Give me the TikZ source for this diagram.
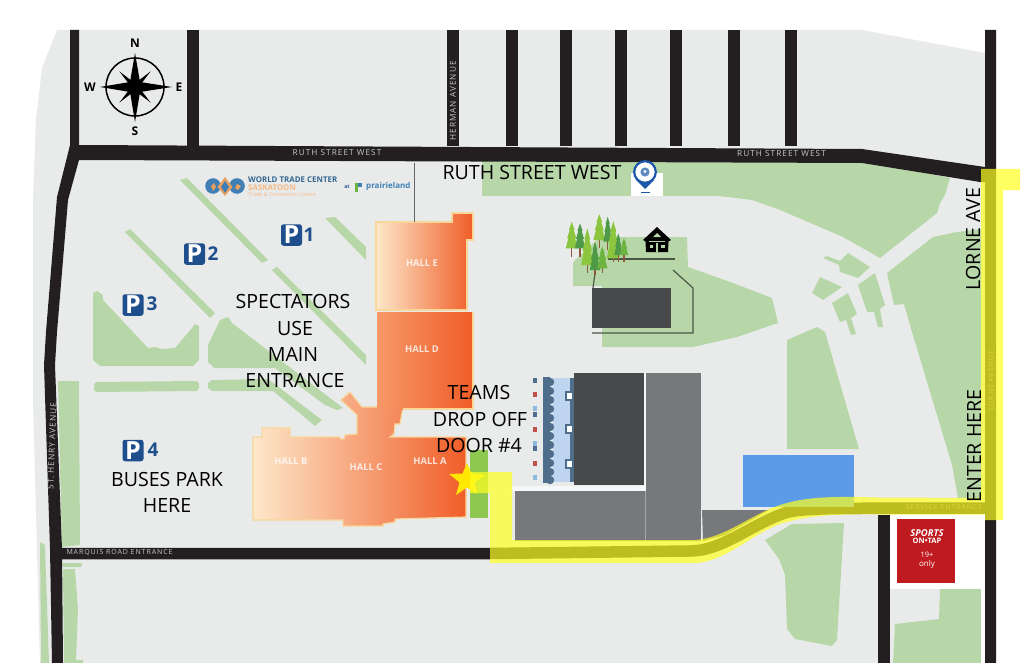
\documentclass[tikz,border=0pt]{standalone}
\usepackage{fontspec}
\setmainfont{Open Sans}
\newfontfamily\roadfont[LetterSpace=13]{Open Sans}
\usetikzlibrary{shadings}
\definecolor{ground}{HTML}{E9EBEB}
\definecolor{lawn}{HTML}{B8D7A9}
\definecolor{road}{HTML}{231F20}
\definecolor{parkblue}{HTML}{1F4E8C}
\definecolor{hallrim}{HTML}{F8D79A}
\definecolor{darkbldg}{HTML}{48494B}
\definecolor{midbldg}{HTML}{77787B}
\definecolor{pool}{HTML}{5B9BE8}
\definecolor{leafA}{HTML}{8CC63F}
\definecolor{leafB}{HTML}{4E9A47}
\definecolor{leafC}{HTML}{6DB33F}
\definecolor{bark}{HTML}{8B5A3C}
\definecolor{routey}{HTML}{FFFF20}
\definecolor{seatdark}{HTML}{4F6E8C}
\definecolor{seatred}{HTML}{C0504D}
\definecolor{seatlight}{HTML}{8DB9DE}
\definecolor{standblue}{HTML}{BFD4EE}
\definecolor{hallcream}{HTML}{FDE8CA}
\definecolor{hallmid}{HTML}{F8A478}
\definecolor{halldleft}{HTML}{F79868}
\definecolor{hallright}{HTML}{F05D28}
\definecolor{padgreen}{HTML}{8FC850}
\definecolor{sportsred}{HTML}{BE1A20}
\definecolor{logoblue}{HTML}{3F7FB5}
\definecolor{logoorange}{HTML}{E8A060}
\definecolor{logopale}{HTML}{F3B988}
\definecolor{pinblue}{HTML}{1B56A8}
\tikzset{
  lawnfill/.style={fill=lawn},
  roadline/.style={draw=road,line width=11.5pt},
  bigtext/.style={font=\fontsize{19.6}{19.6}\selectfont,text=black,inner sep=0pt},
  roadtext/.style={font=\fontsize{8.2}{8.2}\selectfont\roadfont,text=ground!85!black,inner sep=0pt},
  smallroadtext/.style={font=\fontsize{7}{7}\selectfont\roadfont,text=ground!85!black,inner sep=0pt},
  halltext/.style={font=\fontsize{9.4}{9.4}\selectfont\bfseries,text=white,text opacity=.8,inner sep=0pt},
  pbox/.style={fill=parkblue,text=white,rounded corners=2.5pt,minimum width=21pt,minimum height=21.5pt,inner sep=0pt,font=\fontsize{25}{25}\selectfont\bfseries},
  pnum/.style={text=parkblue,inner sep=0pt,font=\fontsize{19}{19}\selectfont\bfseries},
  compasslbl/.style={inner sep=0pt,font=\fontsize{12}{12}\selectfont\bfseries},
  gardenline/.style={draw=black!60!lawn,line width=1.2pt},
}
\newcommand{\pinetree}[6]{%
  \draw[bark,line width=1.3pt] (#1,#2+#3-3) -- (#1,#6);
  \begin{scope}[shift={(#1,#2)},xscale=#4,yscale=#3]
    \fill[#5] (0,0) -- (.24,.3) -- (.16,.3) -- (.38,.62) -- (.28,.62) -- (.5,1) -- (-.5,1) -- (-.28,.62) -- (-.38,.62) -- (-.16,.3) -- (-.24,.3) -- cycle;
  \end{scope}}
\begin{document}
\begin{tikzpicture}[x=1pt,y=-1pt]
\useasboundingbox (0,0) rectangle (1024,663);
\fill[white] (0,0) rectangle (1024,663);
% ground
\fill[ground] (57,30) -- (862,30) -- (985,53) -- (985,663) -- (40,663) -- (33,400) -- (33,200) -- (36,120) -- (42,68) -- cycle;
% lawns top / right
\fill[lawnfill] (482,160) -- (862,160) -- (950,178) -- (945,195) -- (940,203) -- (937,213) -- (880,258) -- (843,237) -- (780,210) -- (752,200) -- (719,196) -- (482,196) -- cycle;
\fill[white] (631,173) rectangle (663,196);
\fill[lawnfill] (887,273) -- (933,237) -- (957,232) -- (981,229) -- (981,498) -- (958,498) -- (952,465) -- (912,332) -- (904,304) -- (894,305) -- cycle;
\fill[lawnfill] (823,258) -- (827,256) -- (840,261) -- (848,253) -- (870,267) -- (858,278) -- (840,272) -- (839,265) -- cycle;
\fill[lawnfill] (820,277) -- (842,287) -- (823,300) -- (812,293) -- cycle;
\fill[lawnfill] (832,303) -- (848,293) -- (857,314) -- (851,318) -- (856,334) -- (851,335) -- (846,320) -- (840,322) -- cycle;
\fill[lawnfill] (858,285) -- (875,273) -- (885,305) -- (880,309) -- (883,327) -- (878,327) -- (874,312) -- (867,312) -- cycle;
\fill[lawnfill] (787,340) -- (817,327) -- (825,332) -- (859,449) -- (787,449) -- cycle;
% garden
\fill[lawnfill] (573,286) -- (573,262) -- (600,237) -- (687,237) -- (688,267) -- (733,283) -- (772,298) -- (778,323) -- (737,337) -- (693,347) -- (602,347) -- (602,286) -- cycle;
% lower lawns
\fill[lawnfill] (765,540) -- (792,524) -- (844,523) -- (837,640) -- (832,646) -- (795,639) -- (787,629) -- (785,575) -- (779,559) -- cycle;
\fill[white] (890,510) rectangle (985,589);
\fill[lawnfill] (940,589) -- (981,589) -- (981,663) -- (893,663) -- (895,624) -- (939,619) -- cycle;
\fill[white] (981,589) rectangle (985,663);
% left strips
\fill[lawnfill] (58,381) -- (79,381) -- (80,545) -- (62,547) -- cycle;
\fill[lawnfill] (62,563) -- (82,563) -- (81,567) -- (63,567) -- cycle;
\fill[lawnfill] (63,569) -- (75,569) -- (78,609) -- (76,660) -- (83,660) -- (83,663) -- (64,663) -- cycle;
\fill[lawnfill] (40,542) -- (45,545) -- (49,663) -- (41,663) -- cycle;
% parking lawns
\fill[lawnfill] (180,180) -- (187,178) -- (268,260) -- (262,263) -- cycle;
\fill[lawnfill] (272,270) -- (277,267) -- (366,355) -- (366,365) -- cycle;
\fill[lawnfill] (325,218) -- (335,217) -- (366,247) -- (366,260) -- cycle;
\fill[lawnfill] (125,232) -- (130,229) -- (215,313) -- (210,318) -- cycle;
\fill[lawnfill] (93,293) -- (97,291) -- (103,295) -- (103,300) -- (148,348) -- (155,347) -- (162,349) -- (175,348) -- (192,328) -- (195,324) -- (199,326) -- (199,360) -- (193,366) -- (100,366) -- (93,360) -- cycle;
\fill[lawnfill,rounded corners=3pt] (94,382) -- (199,381) -- (199,391) -- (94,392) -- cycle;
\fill[lawnfill] (208,345) -- (220,320) -- (228,317) -- (232,323) -- (343,408) -- (337,410) -- (325,405) -- (275,368) -- (214,368) -- (208,362) -- cycle;
\fill[lawnfill] (208,383) -- (212,380) -- (268,379) -- (322,420) -- (315,426) -- (273,391) -- (212,391) -- (208,388) -- cycle;
% roads
\fill[road] (70,145) -- (70,30) -- (79,30) -- (79,145) -- (862,149) -- (985,167) -- (985,30) -- (996,30) -- (996,663) -- (985,663) -- (985,182) -- (980,182) -- (862,163) -- (79,160) -- (68,200) -- (57,332) -- (55,365) -- (62,549) -- (63,663) -- (52,663) -- (50,549) -- (44,365) -- (46,332) -- (57,197) -- cycle;
\foreach \rx in {187,447,506,560,615,670,728,785}
  \fill[road] (\rx,30) rectangle (\rx+12,146);
\fill[road] (878,515) rectangle (890,663);
\draw[roadline] (56,553.5) -- (490,553.5) -- (690,551) .. controls (722,551) and (750,525) .. (785,513) .. controls (802,508) and (830,508) .. (992,508);
% buildings
\fill[darkbldg] (592,288) rectangle (671,328);
\draw[gardenline] (608,259) -- (675,259);
\draw[gardenline] (673,270) -- (693,288) -- (693,333) -- (592,333);
\draw[gardenline] (595,273) -- (593,288);
\fill[white!60!ground] (510,486) rectangle (646,491);
\fill[white!60!ground] (644,373) rectangle (646,491);
\fill[darkbldg] (574,373) rectangle (644,485);
\fill[midbldg] (646,373) rectangle (701,541);
\fill[midbldg] (515,491) rectangle (645,541);
\draw[black!35,line width=.6pt] (645.5,491) -- (645.5,541);
\fill[midbldg] (702,510) -- (769,510) -- (725,535) -- (703,541) -- cycle;
\fill[pool] (743,455) rectangle (854,507);
% stand
\fill[standblue] (553,378) rectangle (573,482);
\fill[seatdark] (570,378) rectangle (574,482);
\fill[seatdark] (543,377) rectangle (550,483);
\foreach \sy in {382,391,400,409,418,427,436,445,454,463,472,480}
  \fill[seatdark] (550,\sy) circle (4.2);
\foreach \sy in {380,414,448} \fill[seatdark] (533,\sy-2.5) rectangle (537,\sy+2.5);
\foreach \sy in {394,429,463} \fill[seatred] (533,\sy-2.5) rectangle (537,\sy+2.5);
\foreach \sy in {408,443,477} \fill[seatlight] (533,\sy-2.5) rectangle (537,\sy+2.5);
\foreach \sy in {396,429,464} \filldraw[draw=seatdark,fill=white,line width=1.5pt] (566,\sy-4) rectangle (573,\sy+4);
% green pad
\fill[padgreen] (470,450) rectangle (488,518);
% halls
\shadedraw[draw=hallrim,line width=1.2pt,left color=hallcream,right color=hallright]
  (376,222) -- (452,222) -- (452,213) -- (473,213) -- (473,240) -- (467,240) -- (467,310) -- (376,310) -- cycle;
\shadedraw[draw=hallrim,line width=1.2pt,left color=hallcream,middle color=hallmid,right color=hallright]
  (253,437) -- (262,437) -- (262,428) -- (290,428) -- (290,437) -- (340,437) -- (340,439) -- (344,439) -- (345,435) -- (357,434) -- (357,415) -- (341,400) -- (350,392) -- (362,407) -- (377,407) -- (403,407) -- (400,424) -- (395,424) -- (394,434) -- (390,437) -- (466,437) -- (466,517) -- (395,519) -- (395,522) -- (383,524) -- (383,526) -- (343,526) -- (343,520) -- (253,520) -- cycle;
\shade[left color=halldleft,right color=hallright]
  (377,312) rectangle (473,409);
\draw[hallrim,line width=1.2pt] (403,409) -- (473,409) -- (473,312);
% star
\fill[yellow!90!orange] (467,463) -- (471.5,473.5) -- (485,475) -- (474.5,482.5) -- (477,494) -- (467,487.5) -- (456,495) -- (459.5,482.5) -- (449,474) -- (462.5,473.5) -- cycle;
% route
\fill[routey,opacity=.7] (981,169) -- (1020,169) -- (1020,190) -- (1003,190) -- (1003,520) -- (985,520) -- (985,514.5) -- (878,514.5) .. controls (830,514) and (805,516) .. (780,524) .. controls (750,535) and (725,562) .. (695,563) -- (490,563) -- (490,493) -- (470,493) -- (470,472) -- (512,472) -- (512,540) -- (695,540) .. controls (725,538) and (750,515) .. (780,505) .. controls (805,497) and (830,496) .. (878,497.5) -- (981,498) -- cycle;
% trees
\pinetree{571.7}{221.7}{26.7}{12}{leafA}{256.7}
\pinetree{580}{223.3}{25}{10.5}{leafB}{256.7}
\pinetree{599.3}{214.3}{25.7}{12}{leafA}{248.3}
\pinetree{607.7}{216.7}{25}{9}{leafB}{250}
\pinetree{587.3}{228.3}{36.7}{12.5}{leafA}{273.3}
\pinetree{613.3}{221}{37.3}{13}{leafA}{262.3}
\pinetree{618.3}{233.3}{21.7}{8}{leafB}{262.3}
\pinetree{624}{238.3}{16.7}{8.5}{leafC}{262.3}
\pinetree{595}{241.7}{28.3}{10.5}{leafB}{275}
\pinetree{602.3}{246.7}{21.7}{10.5}{leafC}{273.3}
% house
\fill[black] (643,240) -- (657,227) -- (671,240) -- (668.5,241.5) -- (668,252) -- (646,252) -- (645.5,241.5) -- cycle;
\fill[lawn] (653,237) -- (657,233) -- (661,237) -- cycle;
\fill[lawn] (649,241) rectangle (665,242);
\fill[lawn] (656,243) rectangle (658,252);
\fill[lawn] (649.5,245) rectangle (653,248);
\fill[lawn] (661,245) rectangle (664.5,248);
% pin
\fill[pinblue] (636,180) -- (645,189) -- (654,180) -- cycle;
\filldraw[draw=pinblue,fill=white,line width=2.2pt] (645,172) circle (10.8);
\fill[pinblue!70!white] (645,172) circle (4.6);
\fill[white] (645,171.5) circle (1.6);
\fill[pinblue] (640.5,192) rectangle (649.5,193.2);
% logo
\fill[logoblue] (213,186) circle (7.8);
\fill[logoblue] (237,186) circle (7.8);
\fill[logoorange] (225,177) -- (232.5,187) -- (225,196) -- (217.5,187) -- cycle;
\fill[logoblue] (225,181) -- (229,187) -- (225,193) -- (221,187) -- cycle;
\fill[logoorange] (211,186) -- (214,183) -- (216,187) -- (213,191) -- cycle;
\fill[logoorange] (237,184) -- (241,186) -- (238,190) -- (235,188) -- cycle;
\fill[leafC] (355,183) rectangle (358,192);
\fill[logoblue] (358,183) -- (362,183) -- (362,187) -- (358,187) -- cycle;
\draw[black!60,line width=.9pt] (414,163) -- (414,222);
% compass
\draw[black,line width=1.5pt] (135,87) circle (29);
\foreach \a in {45,135,225,315}
  \fill[black,rotate around={\a:(135,87)}] (135,84) -- (157,87) -- (135,90) -- cycle;
\fill[black] (135,53) -- (140,82) -- (172,87) -- (140,92) -- (135,122) -- (130,92) -- (100,87) -- (130,82) -- cycle;
\node[compasslbl] (cn) at (135,43.5) {N};
\node[compasslbl] (cs) at (135,131) {S};
\node[compasslbl] (cw) at (90,87) {W};
\node[compasslbl] (ce) at (179,87) {E};
% parking markers
\node[pbox] (p1) at (291.5,235) {P};
\node[pnum] (n1) at (309,235) {1};
\node[pbox] (p2) at (194.5,254) {P};
\node[pnum] (n2) at (213,254) {2};
\node[pbox] (p3) at (133,305) {P};
\node[pnum] (n3) at (152,304) {3};
\node[pbox] (p4) at (133,450.5) {P};
\node[pnum] (n4) at (153,450) {4};
% road labels
\node[roadtext] (rw1) at (337,153) {RUTH STREET WEST};
\node[roadtext] (rw2) at (781.5,153.5) {RUTH STREET WEST};
\node[roadtext,rotate=90] (herm) at (453,101) {HERMAN AVENUE};
\node[roadtext,rotate=88] (henry) at (52,446) {ST. HENRY AVENUE};
\node[smallroadtext] (marq) at (119.5,553) {MARQUIS ROAD ENTRANCE};
\node[smallroadtext,text=yellow!60!olive!75!white] (serv) at (944,507) {SERVICE ENTRANCE};
\node[smallroadtext,text=yellow!60!olive!75!white,rotate=90] (lorn) at (991,381) {LORNE AVENUE};
% logo text
\node[inner sep=0pt,anchor=west,text=logoblue!80!black,font=\fontsize{7.9}{7.9}\selectfont\bfseries] (wtc) at (248,180) {WORLD TRADE CENTER};
\node[inner sep=0pt,anchor=west,text=logopale,font=\fontsize{7.9}{7.9}\selectfont\bfseries] (sask) at (248,187.3) {SASKATOON};
\node[inner sep=0pt,anchor=west,text=logopale,font=\fontsize{5.4}{5.4}\selectfont] (tcc) at (248,194) {Trade \& Convention Centre};
\node[inner sep=0pt,text=parkblue,font=\fontsize{5}{5}\selectfont\bfseries] (atw) at (347,187) {at};
\node[inner sep=0pt,anchor=west,text=logoblue,font=\fontsize{8}{8}\selectfont\bfseries] (prai) at (366,186) {prairieland};
% hall labels
\node[halltext] (he) at (422,263) {HALL E};
\node[halltext] (hd) at (422,349) {HALL D};
\node[halltext] (hb) at (291,461) {HALL B};
\node[halltext] (hc) at (366,467) {HALL C};
\node[halltext] (ha) at (430,461) {HALL A};
% red box
\fill[sportsred] (897,519) rectangle (955,583);
\node[inner sep=0pt,text=white,font=\fontsize{9.5}{9.5}\selectfont\bfseries\itshape] (sp1) at (927,533) {SPORTS};
\node[inner sep=0pt,text=white,font=\fontsize{7.5}{7.5}\selectfont\bfseries] (sp2) at (927,540.5) {ON•TAP};
\node[inner sep=0pt,text=white,font=\fontsize{7.5}{7.5}\selectfont] (sp3) at (927,555) {19+};
\node[inner sep=0pt,text=white,font=\fontsize{8}{8}\selectfont] (sp4) at (927,564) {only};
% big labels
\node[bigtext] (ruth) at (532,172) {RUTH STREET WEST};
\node[bigtext] (spec1) at (293,301) {SPECTATORS};
\node[bigtext] (spec2) at (295,328) {USE};
\node[bigtext] (spec3) at (293,354) {MAIN};
\node[bigtext] (spec4) at (295,380) {ENTRANCE};
\node[bigtext] (team1) at (479,392) {TEAMS};
\node[bigtext] (team2) at (480,419) {DROP OFF};
\node[bigtext] (team3) at (479,445) {DOOR \#4};
\node[bigtext] (bus1) at (167,479) {BUSES PARK};
\node[bigtext] (bus2) at (167,505) {HERE};
\node[bigtext,rotate=90] (lave) at (973,239) {LORNE AVE};
\node[bigtext,rotate=90] (ent) at (974,446) {ENTER HERE};
\end{tikzpicture}
\end{document}
